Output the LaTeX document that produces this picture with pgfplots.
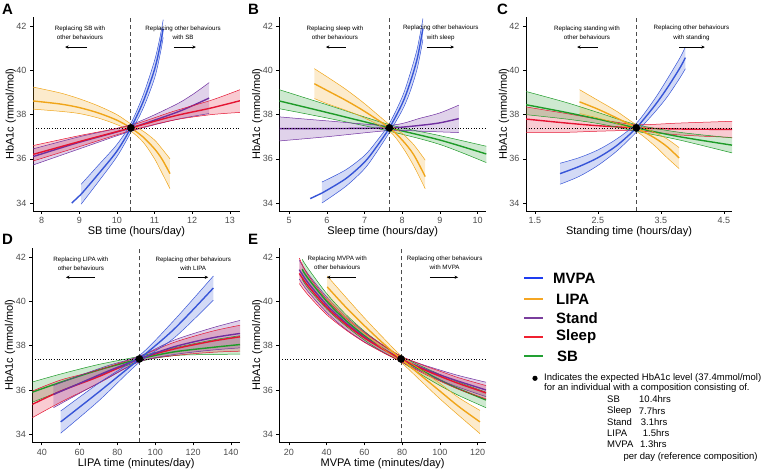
\documentclass[border=0pt]{standalone}
\usepackage{pgfplots}
\pgfplotsset{compat=1.18}
\usepackage{pgfplotstable}
\usepgfplotslibrary{fillbetween}
\usetikzlibrary{arrows.meta}
\usepackage{fontspec}
\setmainfont{Liberation Sans}

\definecolor{cMVPA}{RGB}{55,85,215}
\definecolor{cLIPA}{RGB}{240,165,25}
\definecolor{cStand}{RGB}{112,48,160}
\definecolor{cSleep}{RGB}{228,20,50}
\definecolor{cSB}{RGB}{30,155,40}
\definecolor{tickgray}{RGB}{77,77,77}
\definecolor{lMVPA}{RGB}{30,60,240}
\definecolor{lLIPA}{RGB}{245,166,35}
\definecolor{lStand}{RGB}{122,62,157}
\definecolor{lSleep}{RGB}{240,32,48}
\definecolor{lSB}{RGB}{34,160,51}

% ---------- Panel A: SB time ----------
\pgfplotstableread{
x lo mid hi
9.05 33.95 34.4 34.85
9.5 34.95 35.3 35.7
10.0 36.1 36.35 36.65
10.37 37.2 37.4 37.6
10.7 38.3 38.6 38.9
11.0 39.65 40.05 40.45
11.15 40.75 41.15 41.55
11.23 41.5 41.9 42.3
}\tAmvpa
\pgfplotstableread{
x lo mid hi
7.77 38.25 38.62 39.25
8.5 38.15 38.48 38.98
9.0 38.05 38.32 38.72
9.5 37.85 38.08 38.4
10.0 37.55 37.75 38.0
10.37 37.25 37.4 37.58
10.7 36.75 36.98 37.25
11.0 36.0 36.45 36.85
11.2 35.35 35.98 36.45
11.41 34.65 35.33 36.0
}\tAlipa
\pgfplotstableread{
x lo mid hi
7.77 35.72 36.1 36.45
9.0 36.45 36.75 37.0
10.37 37.25 37.4 37.55
11.5 37.75 38.05 38.4
12.0 37.92 38.4 38.9
12.45 38.05 38.75 39.45
}\tAstand
\pgfplotstableread{
x lo mid hi
7.77 35.9 36.2 36.6
9.0 36.55 36.78 37.05
10.37 37.28 37.4 37.52
11.5 37.75 37.93 38.15
12.5 38.0 38.3 38.65
13.27 38.1 38.63 39.13
}\tAsleep

% ---------- Panel B: Sleep time ----------
\pgfplotstableread{
x lo mid hi
5.87 34.0 34.45 34.95
6.5 34.75 35.1 35.5
7.0 35.55 35.85 36.15
7.3 36.25 36.5 36.75
7.66 37.2 37.4 37.6
8.0 38.2 38.5 38.8
8.2 39.0 39.4 39.8
8.4 40.1 40.55 41.0
8.55 41.4 41.9 42.35
}\tBmvpa
\pgfplotstableread{
x lo mid hi
5.67 38.73 39.4 40.08
6.0 38.5 39.1 39.72
6.5 38.2 38.65 39.15
7.0 37.85 38.15 38.5
7.66 37.25 37.4 37.55
8.0 36.55 36.85 37.15
8.3 35.7 36.2 36.65
8.61 34.65 35.2 35.94
}\tBlipa
\pgfplotstableread{
x lo mid hi
4.74 36.81 37.37 37.9
6.0 37.0 37.37 37.72
7.66 37.28 37.4 37.52
8.5 37.25 37.52 37.85
9.0 37.22 37.63 38.08
9.5 37.19 37.82 38.43
}\tBstand
\pgfplotstableread{
x lo mid hi
4.74 38.27 38.62 39.13
6.0 37.85 38.1 38.45
7.66 37.25 37.4 37.55
9.0 36.65 36.85 37.05
10.23 35.83 36.22 36.57
}\tBsb

% ---------- Panel C: Standing time ----------
\pgfplotstableread{
x lo mid hi
1.9 34.85 35.33 35.8
2.2 35.2 35.65 36.05
2.5 35.7 36.05 36.4
2.8 36.35 36.6 36.9
3.11 37.2 37.4 37.6
3.4 38.1 38.4 38.7
3.6 38.8 39.2 39.6
3.8 39.65 40.1 40.55
3.89 40.08 40.58 41.06
}\tCmvpa
\pgfplotstableread{
x lo mid hi
2.21 38.05 38.58 39.13
2.5 37.85 38.25 38.65
2.8 37.6 37.85 38.15
3.11 37.25 37.4 37.55
3.4 36.6 36.95 37.2
3.6 36.05 36.55 36.9
3.79 35.56 36.04 36.51
}\tClipa
\pgfplotstableread{
x lo mid hi
1.36 38.0 38.45 39.05
2.0 37.8 38.1 38.55
2.5 37.6 37.8 38.1
3.11 37.25 37.4 37.55
3.8 36.85 37.0 37.2
4.63 36.27 36.62 36.95
}\tCsb
\pgfplotstableread{
x lo mid hi
1.36 37.2 37.8 38.35
2.0 37.2 37.62 38.05
2.5 37.25 37.5 37.8
3.11 37.27 37.4 37.55
3.8 37.08 37.35 37.62
4.63 36.97 37.33 37.7
}\tCsleep

% ---------- Panel D: LIPA time ----------
\pgfplotstableread{
x lo mid hi
50 34.05 34.56 35.05
70 35.5 35.9 36.3
91.6 37.25 37.4 37.55
110 38.35 38.75 39.15
130.7 40.05 40.6 41.14
}\tDmvpa
\pgfplotstableread{
x lo mid hi
35 35.45 35.9 36.36
50 35.95 36.35 36.72
70 36.65 36.9 37.15
91.6 37.28 37.4 37.52
110 37.55 37.72 37.9
130 37.6 37.92 38.25
144.8 37.62 38.05 38.45
}\tDsb
\pgfplotstableread{
x lo mid hi
35 34.75 35.35 35.95
50 35.45 35.95 36.45
70 36.3 36.6 36.9
91.6 37.28 37.4 37.52
110 37.55 37.85 38.15
130 37.7 38.2 38.65
144.8 37.75 38.4 38.92
}\tDsleep
\pgfplotstableread{
x lo mid hi
46.2 35.2 35.8 36.2
60 35.85 36.3 36.65
75 36.55 36.85 37.1
91.6 37.28 37.4 37.52
110 37.6 37.95 38.25
130 37.8 38.35 38.8
144.8 37.9 38.55 39.14
}\tDstand

% ---------- Panel E: MVPA time ----------
\pgfplotstableread{
x lo mid hi
40.3 40.12 40.65 41.14
50 39.3 39.75 40.2
60 38.55 38.9 39.25
70 37.85 38.1 38.35
79.4 37.25 37.4 37.55
90 36.4 36.65 36.9
100 35.6 35.95 36.3
110 34.85 35.25 35.65
121.2 34.03 34.56 35.08
}\tElipa
\pgfplotstableread{
x lo mid hi
25.5 40.8 41.26 41.95
30 40.3 40.71 41.2
40 39.4 39.73 40.1
50 38.72 38.97 39.25
60 38.15 38.35 38.58
70 37.68 37.83 38.0
79.4 37.28 37.4 37.52
90 36.8 36.97 37.15
100 36.4 36.62 36.85
110 36.03 36.29 36.55
124.4 35.6 35.87 36.2
}\tEsleep
\pgfplotstableread{
x lo mid hi
25.5 41.0 41.43 41.85
30 40.45 40.85 41.25
40 39.5 39.84 40.2
50 38.75 39.04 39.33
60 38.17 38.39 38.62
70 37.7 37.85 38.02
79.4 37.28 37.4 37.52
90 36.85 37.01 37.17
100 36.45 36.68 36.9
110 36.12 36.39 36.65
124.4 35.7 36.0 36.35
}\tEstand
\pgfplotstableread{
x lo mid hi
27 41.0 41.45 41.9
30 40.6 41.05 41.5
40 39.65 40.0 40.35
50 38.9 39.15 39.42
60 38.25 38.45 38.65
70 37.7 37.85 38.0
79.4 37.28 37.4 37.52
90 36.7 36.9 37.08
100 36.2 36.45 36.7
110 35.75 36.05 36.35
124.4 35.2 35.55 35.9
}\tEsb

\newcommand{\band}[3]{%
  \addplot[name path=#3lo, draw=#1, line width=0.5pt, smooth] table[x=x,y=lo]{#2};
  \addplot[name path=#3hi, draw=#1, line width=0.5pt, smooth] table[x=x,y=hi]{#2};
  \addplot[fill=#1, fill opacity=0.22, draw=none] fill between[of=#3lo and #3hi];
  \addplot[draw=#1, line width=1.4pt, smooth] table[x=x,y=mid]{#2};
}

\tikzset{
  annot/.style={font=\fontsize{6.2}{9.3}\selectfont, align=center, inner sep=0pt},
  arr/.style={-{Stealth[length=3.5pt,width=3.2pt]}, line width=0.6pt, black},
}
\pgfplotsset{
  panel/.style={
    scale only axis, width=207pt, height=194pt,
    ymin=33.64, ymax=42.42, ytick={34,36,38,40,42},
    axis x line*=bottom, axis y line*=left,
    axis line style={-, black, line width=0.6pt},
    tick style={black, line width=0.6pt},
    tick align=outside, major tick length=3pt,
    ticklabel style={font=\fontsize{9}{10}\selectfont, text=tickgray},
    /pgf/number format/assume math mode=true,
    ylabel={HbA1c (mmol/mol)},
    label style={font=\fontsize{11}{12}\selectfont},
    ylabel style={at={(axis description cs:-0.107,0.5)}, anchor=center},
    xlabel style={at={(axis description cs:0.5,-0.108)}, anchor=center},
  },
  refline/.style={dashed, dash pattern=on 4pt off 3pt, line width=0.8pt, black!70},
  hline/.style={dotted, line width=0.7pt, black},
  refpt/.style={only marks, mark=*, mark size=3.6pt, black},
}

\begin{document}
\begin{tikzpicture}

% ================= A =================
\begin{axis}[panel, at={(33pt,259pt)}, anchor=south west,
  xmin=7.77, xmax=13.27, xtick={8,9,10,11,12,13},
  xlabel={SB time (hours/day)}]
  \band{cLIPA}{\tAlipa}{Al}
  \band{cStand}{\tAstand}{Ast}
  \band{cSleep}{\tAsleep}{Asl}
  \band{cMVPA}{\tAmvpa}{Am}
  \addplot[cMVPA, line width=1.4pt] coordinates {(8.8,34.0) (9.05,34.4)};
  \addplot[hline] coordinates {(7.77,37.4) (13.27,37.4)};
  \addplot[refline] coordinates {(10.36,33.64) (10.36,42.42)};
  \addplot[refpt] coordinates {(10.37,37.4)};
  \node[annot] at (rel axis cs:0.227,0.918) {Replacing SB with\\other behaviours};
  \draw[arr] (rel axis cs:0.261,0.845) -- (rel axis cs:0.155,0.845);
  \node[annot] at (rel axis cs:0.725,0.918) {Replacing other behaviours\\with SB};
  \draw[arr] (rel axis cs:0.681,0.845) -- (rel axis cs:0.787,0.845);
\end{axis}

% ================= B =================
\begin{axis}[panel, at={(279.3pt,259pt)}, anchor=south west,
  xmin=4.74, xmax=10.23, xtick={5,6,7,8,9,10},
  xlabel={Sleep time (hours/day)}]
  \band{cSB}{\tBsb}{Bsb}
  \band{cStand}{\tBstand}{Bst}
  \band{cLIPA}{\tBlipa}{Bl}
  \band{cMVPA}{\tBmvpa}{Bm}
  \addplot[cMVPA, line width=1.4pt] coordinates {(5.56,34.2) (5.87,34.45)};
  \addplot[hline] coordinates {(4.74,37.4) (10.23,37.4)};
  \addplot[refline] coordinates {(7.66,33.64) (7.66,42.42)};
  \addplot[refpt] coordinates {(7.66,37.4)};
  \node[annot] at (rel axis cs:0.269,0.918) {Replacing sleep with\\other behaviours};
  \draw[arr] (rel axis cs:0.322,0.845) -- (rel axis cs:0.225,0.845);
  \node[annot] at (rel axis cs:0.78,0.918) {Replacing other behaviours\\with sleep};
  \draw[arr] (rel axis cs:0.712,0.845) -- (rel axis cs:0.844,0.845);
\end{axis}

% ================= C =================
\begin{axis}[panel, width=206pt, at={(526pt,259pt)}, anchor=south west,
  xmin=1.36, xmax=4.63, xtick={1.5,2.5,3.5,4.5},
  xlabel={Standing time (hours/day)}]
  \band{cSleep}{\tCsleep}{Csl}
  \band{cSB}{\tCsb}{Csb}
  \band{cLIPA}{\tClipa}{Cl}
  \band{cMVPA}{\tCmvpa}{Cm}
  \addplot[hline] coordinates {(1.36,37.4) (4.63,37.4)};
  \addplot[refline] coordinates {(3.11,33.64) (3.11,42.42)};
  \addplot[refpt] coordinates {(3.11,37.4)};
  \node[annot] at (rel axis cs:0.296,0.918) {Replacing standing with\\other behaviours};
  \draw[arr] (rel axis cs:0.349,0.845) -- (rel axis cs:0.248,0.845);
  \node[annot] at (rel axis cs:0.803,0.918) {Replacing other behaviours\\with standing};
  \draw[arr] (rel axis cs:0.744,0.845) -- (rel axis cs:0.868,0.845);
\end{axis}

% ================= D =================
\begin{axis}[panel, width=207.7pt, height=194.6pt, at={(32.3pt,27.7pt)}, anchor=south west,
  xmin=35.0, xmax=144.8, xtick={40,60,80,100,120,140},
  xlabel={LIPA time (minutes/day)}]
  \band{cSB}{\tDsb}{Dsb}
  \band{cSleep}{\tDsleep}{Dsl}
  \band{cStand}{\tDstand}{Dst}
  \band{cMVPA}{\tDmvpa}{Dm}
  \addplot[hline] coordinates {(35,37.4) (144.8,37.4)};
  \addplot[refline] coordinates {(91.6,33.64) (91.6,42.42)};
  \addplot[refpt] coordinates {(91.6,37.4)};
  \node[annot] at (rel axis cs:0.234,0.917) {Replacing LIPA with\\other behaviours};
  \draw[arr] (rel axis cs:0.302,0.848) -- (rel axis cs:0.162,0.848);
  \node[annot] at (rel axis cs:0.775,0.917) {Replacing other behaviours\\with LIPA};
  \draw[arr] (rel axis cs:0.703,0.848) -- (rel axis cs:0.847,0.848);
\end{axis}

% ================= E =================
\begin{axis}[panel, width=206.7pt, height=194.6pt, at={(279.3pt,27.7pt)}, anchor=south west,
  xmin=14.9, xmax=124.4, xtick={20,40,60,80,100,120},
  xlabel={MVPA time (minutes/day)}]
  \band{cSB}{\tEsb}{Esb}
  \band{cStand}{\tEstand}{Est}
  \band{cSleep}{\tEsleep}{Esl}
  \band{cLIPA}{\tElipa}{El}
  \addplot[hline] coordinates {(14.9,37.4) (124.4,37.4)};
  \addplot[refline] coordinates {(79.4,33.64) (79.4,42.42)};
  \addplot[refpt] coordinates {(79.4,37.4)};
  \node[annot] at (rel axis cs:0.28,0.921) {Replacing MVPA with\\other behaviours};
  \draw[arr] (rel axis cs:0.37,0.848) -- (rel axis cs:0.23,0.848);
  \node[annot] at (rel axis cs:0.8,0.921) {Replacing other behaviours\\with MVPA};
  \draw[arr] (rel axis cs:0.728,0.848) -- (rel axis cs:0.865,0.848);
\end{axis}

% ---------- panel letters ----------
\begin{scope}[every node/.style={font=\fontsize{15}{15}\bfseries\selectfont, inner sep=0pt, anchor=west}]
\node at (2pt,460.5pt) {A};
\node at (248pt,460.5pt) {B};
\node at (497pt,460.5pt) {C};
\node at (2pt,231pt) {D};
\node at (248pt,231pt) {E};
\end{scope}

% ---------- legend ----------
\begin{scope}[every node/.style={font=\fontsize{15}{15}\bfseries\selectfont, inner sep=0pt, anchor=west}]
\draw[lMVPA, line width=2.2pt] (524pt,192pt) -- (543pt,192pt); \node at (553pt,192pt) {MVPA};
\draw[lLIPA, line width=2.2pt] (524pt,171pt) -- (543pt,171pt); \node at (556pt,171pt) {LIPA};
\draw[lStand, line width=2.2pt] (524pt,152pt) -- (543pt,152pt); \node at (556pt,152pt) {Stand};
\draw[lSleep, line width=2.2pt] (524pt,133pt) -- (543pt,133pt); \node at (556pt,133pt) {Sleep};
\draw[lSB, line width=2.2pt] (524pt,114pt) -- (543pt,114pt); \node at (557pt,114pt) {SB};
\end{scope}

% ---------- note ----------
\fill[black] (535pt,91.7pt) circle (2.6pt);
\begin{scope}[every node/.style={font=\fontsize{9.5}{11}\selectfont, inner sep=0pt, anchor=west}]
\node at (544pt,91.7pt) {Indicates the expected HbA1c level (37.4mmol/mol)};
\node at (544pt,81.7pt) {for an individual with a composition consisting of.};
\node at (607pt,70.7pt) {SB}; \node at (639pt,70.7pt) {10.4hrs};
\node at (607pt,59.3pt) {Sleep}; \node at (638.7pt,59.3pt) {7.7hrs};
\node at (607pt,47.7pt) {Stand}; \node at (640.7pt,47.7pt) {3.1hrs};
\node at (607pt,36.7pt) {LIPA}; \node at (642.7pt,36.7pt) {1.5hrs};
\node at (607pt,26pt) {MVPA}; \node at (640pt,26pt) {1.3hrs};
\node at (623.3pt,13.3pt) {per day (reference composition)};
\end{scope}

\pgfresetboundingbox
\path (0pt,0pt) rectangle (764pt,470pt);
\end{tikzpicture}
\end{document}
